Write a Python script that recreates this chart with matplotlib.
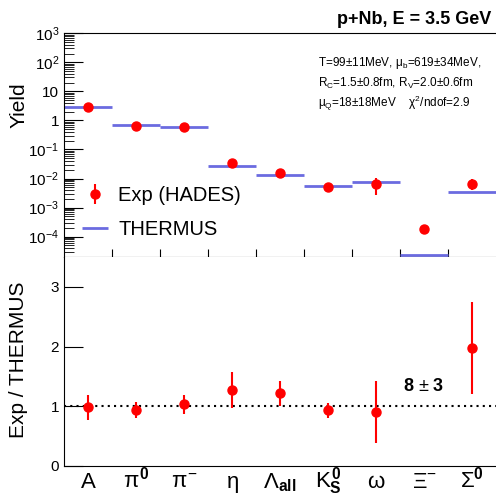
import matplotlib.pyplot as plt
import matplotlib.transforms as mtransforms
import numpy as np

plt.rcParams['font.family'] = ['Liberation Sans', 'DejaVu Sans']
plt.rcParams['mathtext.fontset'] = 'custom'
plt.rcParams['mathtext.rm'] = 'Liberation Sans'
plt.rcParams['mathtext.it'] = 'Liberation Sans'
plt.rcParams['mathtext.bf'] = 'Liberation Sans:bold'

# particles (x categories)
particles = ['A', r'$\pi^{\mathbf{0}}$', r'$\pi^{-}$', r'$\eta$', r'$\Lambda_{\mathbf{all}}$',
             r'$K^{\mathbf{0}}_{\mathbf{S}}$', r'$\omega$', r'$\Xi^{-}$', r'$\Sigma^{\mathbf{0}}$']

# measured yields (HADES) and errors
exp_yield = [2.8, 0.63, 0.58, 0.033, 0.016, 0.0053, 0.0067, 1.9e-4, 0.0067]
exp_err = [0.6, 0.09, 0.09, 0.008, 0.0028, 0.0007, 0.0039, 7e-5, 0.0026]

# THERMUS fit yields
thermus_yield = [2.9, 0.67, 0.57, 0.026, 0.0137, 0.0057, 0.0075, 2.4e-5, 0.0034]

# ratio Exp / THERMUS (Xi- is off scale, shown as text)
ratio = [0.98, 0.94, 1.03, 1.27, 1.22, 0.93, 0.90, np.nan, 1.97]
ratio_err = [0.21, 0.13, 0.16, 0.30, 0.21, 0.12, 0.52, np.nan, 0.77]

red = '#ff0000'
blue = '#6b6be0'
x = np.arange(len(particles))

fig = plt.figure(figsize=(4.96, 4.96), dpi=100)
ax1 = fig.add_axes([0.129, 0.482, 0.871, 0.451])
ax2 = fig.add_axes([0.129, 0.0605, 0.871, 0.4215])

# top panel: yields
ax1.hlines(thermus_yield, x - 0.5, x + 0.5, color=blue, lw=2, label='THERMUS')
ax1.errorbar(x, exp_yield, yerr=exp_err, fmt='o', color=red, ms=6.5, elinewidth=1.5,
             capsize=0, label='Exp (HADES)')
ax1.set_yscale('log')
ax1.set_ylim(2e-5, 1e3)
ax1.set_xlim(-0.5, len(particles) - 0.5)
ax1.set_yticks([1e3, 1e2, 10, 1, 0.1, 0.01, 1e-3, 1e-4])
ax1.set_yticklabels([r'$10^{3}$', r'$10^{2}$', '10', '1', r'$10^{-1}$', r'$10^{-2}$',
                     r'$10^{-3}$', r'$10^{-4}$'])
ax1.set_xticks(x[:-1] + 0.5)
ax1.set_xticklabels([])
ax1.tick_params(axis='y', which='major', direction='in', length=14, labelsize=11)
ax1.tick_params(axis='y', which='minor', direction='in', length=7)
ax1.tick_params(axis='x', direction='in', length=6)
ax1.set_ylabel('Yield', fontsize=15)
ax1.yaxis.set_label_coords(-0.083, 0.68)
ax1.spines['right'].set_visible(False)

handles, labels = ax1.get_legend_handles_labels()
ax1.legend(handles[::-1], labels[::-1], loc='lower left', bbox_to_anchor=(0.0, 0.0),
           frameon=False, fontsize=14.5, handlelength=1.3, handletextpad=0.5,
           labelspacing=0.75)

ax1.text(0.588, 0.853, r'T=99$\pm$11MeV, $\mu_{b}$=619$\pm$34MeV,', transform=ax1.transAxes,
         fontsize=8.5)
ax1.text(0.588, 0.759, r'R$_{C}$=1.5$\pm$0.8fm, R$_{V}$=2.0$\pm$0.6fm', transform=ax1.transAxes,
         fontsize=8.5)
ax1.text(0.588, 0.67, r'$\mu_{Q}$=18$\pm$18MeV    $\chi^{2}$/ndof=2.9', transform=ax1.transAxes,
         fontsize=8.5)
fig.text(0.99, 0.952, 'p+Nb, E = 3.5 GeV', ha='right', fontsize=13, fontweight='bold')

# bottom panel: ratio
ax2.errorbar(x, ratio, yerr=ratio_err, fmt='o', color=red, ms=6.5, elinewidth=1.5, capsize=0)
ax2.axhline(1, color='black', ls=(0, (1, 2)), lw=1.5, zorder=0)
ax2.text(7, 1.33, r'8 $\pm$ 3', ha='center', va='center', fontsize=13, fontweight='bold')
ax2.set_ylim(0, 3.5)
ax2.set_xlim(-0.5, len(particles) - 0.5)
ax2.set_yticks([0, 1, 2, 3])
ax2.tick_params(axis='y', direction='in', length=14, labelsize=11)
ax2.set_xticks(x)
ax2.set_xticklabels([])
ax2.tick_params(axis='x', length=0)
# particle names on a common baseline below the axis
trans = mtransforms.blended_transform_factory(ax2.transData, ax2.transAxes)
for xi, name in zip(x, particles):
    ax2.text(xi, -0.105, name, transform=trans, ha='center', va='baseline', fontsize=16,
             clip_on=False)
ax2.set_ylabel('Exp / THERMUS', fontsize=15)
ax2.yaxis.set_label_coords(-0.083, 0.51)
ax2.spines['right'].set_visible(False)
ax2.spines['top'].set_visible(False)

fig.savefig('out.png', dpi=100)
